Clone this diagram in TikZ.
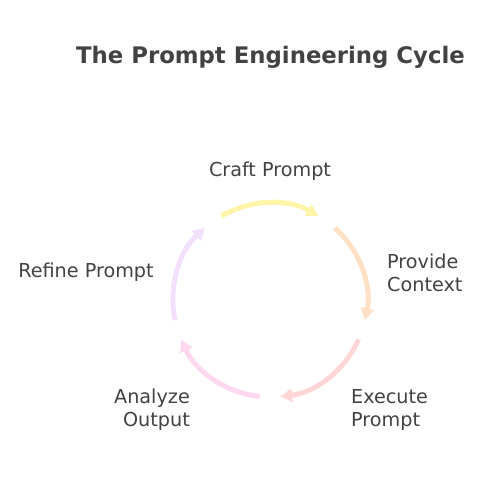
\documentclass[tikz,border=0pt]{standalone}
\usepackage{fontspec}
\setmainfont{DejaVu Sans}
\usetikzlibrary{arrows.meta,calc}
\definecolor{txt}{HTML}{424242}
\definecolor{cyel}{HTML}{FFF5A8}
\definecolor{cora}{HTML}{FFE0C4}
\definecolor{cred}{HTML}{FFD6D6}
\definecolor{cpnk}{HTML}{FDD8F0}
\definecolor{clav}{HTML}{F2E0FC}
\tikzset{
  lbl/.style={text=txt, font=\fontsize{19.2}{23}\selectfont, inner sep=0pt},
  cyc/.style={line width=5pt, -{Triangle[length=12pt,width=13pt]}},
}
\begin{document}
\begin{tikzpicture}[x=1pt,y=1pt]
\useasboundingbox (0,0) rectangle (492,480);
\coordinate (c) at (270,180);
\node[text=txt, font=\fontsize{22.8}{26}\selectfont\bfseries, inner sep=0pt] (title) at (270.5,422.5) {The Prompt Engineering Cycle};
\node[lbl] (craft) at (270,308.5) {Craft Prompt};
\node[lbl, anchor=west, align=left] (provide) at (387,207.5) {Provide\\Context};
\node[lbl, anchor=west, align=left] (execute) at (351,70) {Execute\\Prompt};
\node[lbl, anchor=east, align=right] (analyze) at (190,70) {Analyze\\Output};
\node[lbl] (refine) at (86,208) {Refine Prompt};
\coordinate (s1) at ($(c)+(120:97)$);
\coordinate (s2) at ($(c)+(48:97)$);
\coordinate (s3) at ($(c)+(-24:97)$);
\coordinate (s4) at ($(c)+(-96:97)$);
\coordinate (s5) at ($(c)+(-168:97)$);
\draw[cyc, cyel] (s1) arc[start angle=120, end angle=60, radius=97];
\draw[cyc, cora] (s2) arc[start angle=48, end angle=-12, radius=97];
\draw[cyc, cred] (s3) arc[start angle=-24, end angle=-84, radius=97];
\draw[cyc, cpnk] (s4) arc[start angle=-96, end angle=-156, radius=97];
\draw[cyc, clav] (s5) arc[start angle=-168, end angle=-228, radius=97];
\end{tikzpicture}
\end{document}
